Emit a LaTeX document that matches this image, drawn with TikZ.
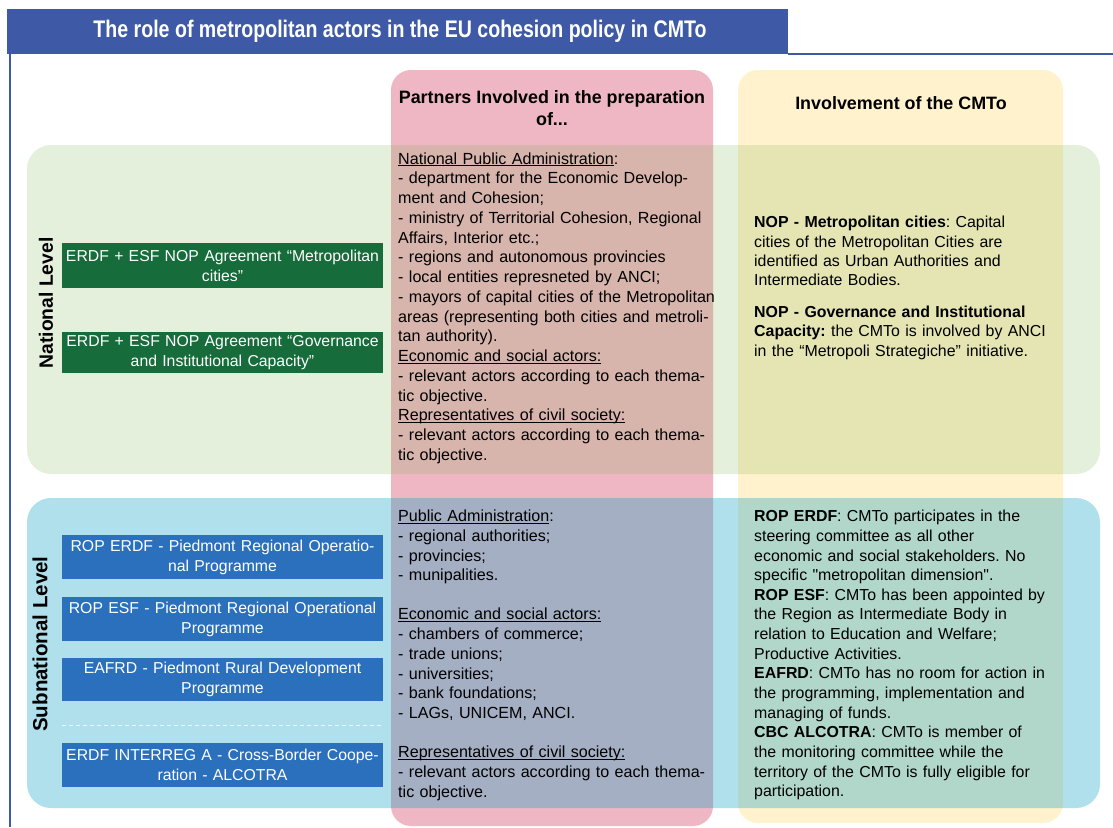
\documentclass[tikz,border=0pt]{standalone}
\usepackage{fontspec}
\setmainfont{Liberation Sans}
\usepackage{graphicx}
\frenchspacing
\newcommand{\undl}[1]{$\underline{\smash{\hbox{#1}}}$}
\definecolor{titleblue}{RGB}{62,89,166}
\definecolor{pinkcol}{RGB}{239,183,196}
\definecolor{yellowcol}{RGB}{255,242,204}
\definecolor{bandgreen}{RGB}{112,173,71}
\definecolor{bandblue}{RGB}{0,158,196}
\definecolor{boxgreen}{RGB}{22,108,58}
\definecolor{boxblue}{RGB}{43,112,188}
\tikzset{
  lvlbox/.style={minimum width=321pt, minimum height=45pt, text width=321pt, align=center, inner sep=0pt, text=white, font=\fontsize{15.8}{20}\selectfont},
  greenbox/.style={lvlbox, fill=boxgreen},
  bluebox/.style={lvlbox, fill=boxblue},
  body/.style={anchor=north west, inner sep=0pt, text width=340pt, align=left, font=\fontsize{16.1}{19.75}\selectfont},
  colhead/.style={font=\bfseries\fontsize{17.9}{22}\selectfont, align=center, inner sep=0pt},
  levellabel/.style={rotate=90, inner sep=0pt, font=\bfseries\fontsize{19.3}{21}\selectfont},
  column/.style={rounded corners=20pt},
  band/.style={rounded corners=24pt}
}
\begin{document}
\begin{tikzpicture}[x=1pt,y=-1pt]
\useasboundingbox (0,0) rectangle (1113,827);
\fill[white] (0,0) rectangle (1113,827);
% columns
\fill[pinkcol, column] (391,70) rectangle (713,826);
\fill[yellowcol, column] (738,70) rectangle (1063,823);
% level bands
\fill[bandgreen, fill opacity=0.19, band] (27,145) rectangle (1100,474);
\fill[bandblue, fill opacity=0.31, band] (27,498) rectangle (1100,808);
% title frame
\fill[titleblue] (7,9) rectangle (788,54);
\draw[titleblue, line width=2pt] (788,53.5) -- (1113,53.5);
\draw[titleblue, line width=2.5pt] (10,54) -- (10,827);
\node[text=white, inner sep=0pt] (title) at (400,31) {\resizebox{613pt}{\height}{\fontsize{24}{26}\selectfont\bfseries The role of metropolitan actors in the EU cohesion policy in CMTo}};
% column headers
\node[colhead] (hpart) at (552,108) {Partners Involved in the preparation\\of...};
\node[colhead] (hinv) at (901,103) {Involvement of the CMTo};
% level labels
\node[levellabel] (lnat) at (46,303) {National Level};
\node[levellabel, font=\bfseries\fontsize{20.5}{22}\selectfont] (lsub) at (40,644) {Subnational Level};
% programme boxes
\node[greenbox] (g1) at (222.5,265.5) {ERDF + ESF NOP Agreement “Metropolitan\\cities”};
\node[greenbox, minimum height=41pt] (g2) at (222.5,352.5) {ERDF + ESF NOP Agreement “Governance\\and Institutional Capacity”};
\node[bluebox, minimum height=44pt] (b1) at (222.5,557) {ROP ERDF - Piedmont Regional Operatio-\\nal Programme};
\node[bluebox, minimum height=44pt] (b2) at (222.5,619) {ROP ESF - Piedmont Regional Operational\\Programme};
\node[bluebox, minimum height=43pt] (b3) at (222.5,679.5) {EAFRD - Piedmont Rural Development\\Programme};
\node[bluebox, minimum height=44pt] (b4) at (222.5,765) {ERDF INTERREG A - Cross-Border Coope-\\ration - ALCOTRA};
\coordinate (dl) at (62,725);
\coordinate (dr) at (383,725);
\draw[white, opacity=0.75, line width=1pt, dash pattern=on 4pt off 3pt] (dl) -- (dr);
% middle column texts
\node[body] (mnat) at (398,155.5) {\undl{National Public Administration}:\\
- department for the Economic Develop-\\
ment and Cohesion;\\
- ministry of Territorial Cohesion, Regional\\
Affairs, Interior etc.;\\
- regions and autonomous provincies\\
- local entities represneted by ANCI;\\
- mayors of capital cities of the Metropolitan\\
areas (representing both cities and metroli-\\
tan authority).\\
\undl{Economic and social actors:}\\
- relevant actors according to each thema-\\
tic objective.\\
\undl{Representatives of civil society:}\\
- relevant actors according to each thema-\\
tic objective.};
\node[body] (msub) at (398,513) {\undl{Public Administration}:\\
- regional authorities;\\
- provincies;\\
- munipalities.\\[19.2pt]
\undl{Economic and social actors:}\\
- chambers of commerce;\\
- trade unions;\\
- universities;\\
- bank foundations;\\
- LAGs, UNICEM, ANCI.\\[19.2pt]
\undl{Representatives of civil society:}\\
- relevant actors according to each thema-\\
tic objective.};
% right column texts
\node[body, text width=320pt, font=\fontsize{15.9}{19.4}\selectfont] (rnat) at (754,216) {\textbf{NOP - Metropolitan cities}: Capital\\
cities of the Metropolitan Cities are\\
identified as Urban Authorities and\\
Intermediate Bodies.\\[12pt]
\textbf{NOP - Governance and Institutional}\\
\textbf{Capacity:} the CMTo is involved by ANCI\\
in the “Metropoli Strategiche” initiative.};
\node[body, text width=320pt, font=\fontsize{15.9}{19.65}\selectfont] (rsub) at (754,510) {\textbf{ROP ERDF}: CMTo participates in the\\
steering committee as all other\\
economic and social stakeholders. No\\
specific \textquotedbl metropolitan dimension\textquotedbl.\\
\textbf{ROP ESF}: CMTo has been appointed by\\
the Region as Intermediate Body in\\
relation to Education and Welfare;\\
Productive Activities.\\
\textbf{EAFRD}: CMTo has no room for action in\\
the programming, implementation and\\
managing of funds.\\
\textbf{CBC ALCOTRA}: CMTo is member of\\
the monitoring committee while the\\
territory of the CMTo is fully eligible for\\
participation.};
\end{tikzpicture}
\end{document}
